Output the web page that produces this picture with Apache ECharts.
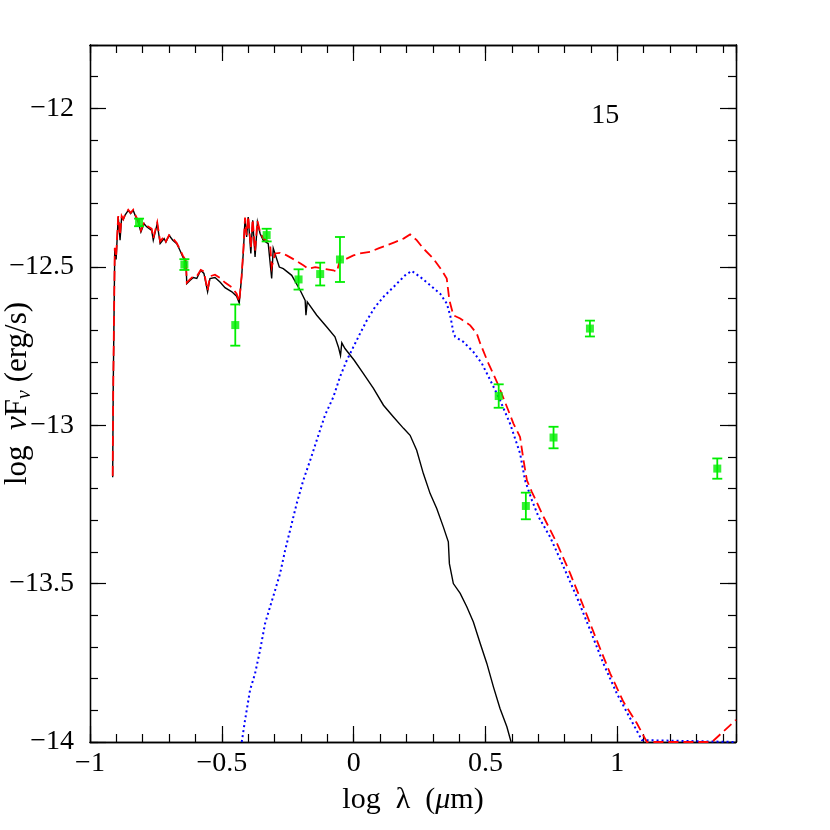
<!DOCTYPE html>
<html>
<head>
<meta charset="utf-8">
<script src="https://cdn.jsdelivr.net/npm/echarts@6/dist/echarts.min.js"></script>
<style>
  html, body { margin: 0; padding: 0; background: #fff; }
  #chart { width: 830px; height: 830px; }
</style>
</head>
<body>
<div id="chart"></div>
<script>
// 光球模型 (black, solid)
const photPts = [[-0.914,-13.164],[-0.912,-12.890],[-0.906,-12.443],[-0.901,-12.477],[-0.893,-12.343],[-0.886,-12.416],[-0.880,-12.343],[-0.874,-12.351],[-0.867,-12.337],[-0.855,-12.322],[-0.846,-12.332],[-0.836,-12.322],[-0.829,-12.337],[-0.817,-12.359],[-0.807,-12.390],[-0.795,-12.364],[-0.785,-12.374],[-0.766,-12.385],[-0.760,-12.416],[-0.745,-12.364],[-0.734,-12.427],[-0.719,-12.411],[-0.712,-12.422],[-0.700,-12.401],[-0.686,-12.416],[-0.671,-12.427],[-0.659,-12.448],[-0.648,-12.469],[-0.636,-12.485],[-0.633,-12.553],[-0.621,-12.543],[-0.608,-12.534],[-0.595,-12.537],[-0.580,-12.511],[-0.568,-12.521],[-0.554,-12.579],[-0.545,-12.537],[-0.526,-12.534],[-0.507,-12.548],[-0.488,-12.566],[-0.462,-12.579],[-0.444,-12.593],[-0.434,-12.614],[-0.425,-12.532],[-0.418,-12.448],[-0.412,-12.348],[-0.406,-12.406],[-0.400,-12.343],[-0.390,-12.458],[-0.383,-12.353],[-0.374,-12.469],[-0.365,-12.359],[-0.355,-12.395],[-0.343,-12.416],[-0.324,-12.427],[-0.311,-12.537],[-0.305,-12.442],[-0.282,-12.501],[-0.267,-12.506],[-0.235,-12.527],[-0.203,-12.574],[-0.184,-12.606],[-0.181,-12.653],[-0.176,-12.611],[-0.140,-12.653],[-0.102,-12.690],[-0.071,-12.721],[-0.058,-12.753],[-0.050,-12.780],[-0.045,-12.740],[-0.039,-12.737],[-0.033,-12.758],[0.002,-12.795],[0.037,-12.837],[0.075,-12.884],[0.113,-12.937],[0.151,-12.974],[0.189,-13.010],[0.214,-13.032],[0.239,-13.079],[0.264,-13.152],[0.290,-13.216],[0.315,-13.263],[0.340,-13.321],[0.359,-13.368],[0.363,-13.437],[0.378,-13.500],[0.404,-13.531],[0.429,-13.573],[0.454,-13.621],[0.480,-13.689],[0.505,-13.752],[0.530,-13.826],[0.555,-13.894],[0.581,-13.952],[0.597,-14.0]]

// 尘埃模型 (blue, dotted)
const dustPts = [[-0.4245,-14.0],[-0.412,-13.931],[-0.393,-13.836],[-0.374,-13.784],[-0.355,-13.710],[-0.336,-13.626],[-0.317,-13.573],[-0.298,-13.521],[-0.279,-13.468],[-0.260,-13.395],[-0.241,-13.331],[-0.216,-13.247],[-0.191,-13.174],[-0.165,-13.111],[-0.140,-13.047],[-0.109,-12.969],[-0.077,-12.911],[-0.052,-12.848],[-0.026,-12.795],[-0.001,-12.753],[0.024,-12.711],[0.050,-12.669],[0.081,-12.627],[0.113,-12.595],[0.151,-12.564],[0.183,-12.537],[0.195,-12.527],[0.220,-12.513],[0.252,-12.532],[0.290,-12.558],[0.328,-12.585],[0.353,-12.616],[0.366,-12.653],[0.378,-12.706],[0.385,-12.721],[0.416,-12.737],[0.454,-12.769],[0.486,-12.805],[0.518,-12.858],[0.555,-12.921],[0.593,-12.995],[0.631,-13.089],[0.650,-13.174],[0.676,-13.237],[0.701,-13.289],[0.745,-13.353],[0.796,-13.447],[0.846,-13.542],[0.897,-13.647],[0.947,-13.752],[0.998,-13.847],[1.049,-13.926],[1.093,-13.994],[1.45,-14.0]]

// 总和 (red, dashed)
const totalPts = [[-0.914,-13.16],[-0.912,-12.89],[-0.906,-12.44],[-0.901,-12.47],[-0.893,-12.34],[-0.886,-12.40],[-0.880,-12.34],[-0.874,-12.35],[-0.867,-12.335],[-0.855,-12.32],[-0.846,-12.33],[-0.836,-12.32],[-0.829,-12.335],[-0.817,-12.355],[-0.807,-12.385],[-0.795,-12.36],[-0.785,-12.37],[-0.766,-12.38],[-0.760,-12.41],[-0.745,-12.36],[-0.734,-12.42],[-0.719,-12.405],[-0.712,-12.42],[-0.700,-12.40],[-0.686,-12.41],[-0.671,-12.425],[-0.659,-12.445],[-0.648,-12.465],[-0.636,-12.48],[-0.633,-12.55],[-0.621,-12.54],[-0.608,-12.53],[-0.595,-12.53],[-0.580,-12.51],[-0.568,-12.515],[-0.554,-12.575],[-0.545,-12.53],[-0.526,-12.525],[-0.507,-12.535],[-0.488,-12.55],[-0.462,-12.565],[-0.444,-12.585],[-0.434,-12.61],[-0.425,-12.53],[-0.418,-12.44],[-0.412,-12.345],[-0.406,-12.40],[-0.400,-12.34],[-0.390,-12.44],[-0.383,-12.35],[-0.374,-12.45],[-0.365,-12.355],[-0.355,-12.39],[-0.343,-12.41],[-0.324,-12.42],[-0.317,-12.427],[-0.311,-12.501],[-0.298,-12.458],[-0.279,-12.456],[-0.254,-12.464],[-0.222,-12.479],[-0.191,-12.495],[-0.172,-12.506],[-0.146,-12.501],[-0.115,-12.506],[-0.077,-12.511],[-0.064,-12.516],[-0.052,-12.479],[-0.026,-12.474],[-0.001,-12.464],[0.024,-12.458],[0.062,-12.453],[0.094,-12.442],[0.126,-12.432],[0.157,-12.422],[0.189,-12.411],[0.214,-12.398],[0.239,-12.416],[0.264,-12.442],[0.302,-12.474],[0.334,-12.511],[0.353,-12.537],[0.363,-12.606],[0.378,-12.653],[0.404,-12.663],[0.442,-12.685],[0.467,-12.711],[0.480,-12.742],[0.511,-12.805],[0.543,-12.863],[0.574,-12.927],[0.606,-12.995],[0.631,-13.037],[0.644,-13.110],[0.657,-13.174],[0.676,-13.211],[0.720,-13.289],[0.771,-13.373],[0.821,-13.468],[0.872,-13.573],[0.922,-13.679],[0.973,-13.784],[1.023,-13.873],[1.074,-13.941],[1.112,-14.0],[1.359,-14.0],[1.45,-13.93]]

// 观测点
const obsX = [-0.814, -0.642, -0.449, -0.330, -0.209, -0.127, -0.052, 0.550, 0.653, 0.758, 0.896, 1.379]
const obsY = [-12.360, -12.493, -12.684, -12.400, -12.540, -12.523, -12.477, -12.908, -13.255, -13.039, -12.695, -13.137]
const obsErr = [0.012, 0.017, 0.065, 0.020, 0.032, 0.036, 0.071, 0.037, 0.042, 0.034, 0.025, 0.032]

const xRange = [-1, 1.45]
const yRange = [-14, -11.8]
const panelLabel = '15'
const panelLabelPos = [0.954, -12.022]

const FONT = '"Liberation Serif", "DejaVu Serif", serif'
const GREEN = '#00ee00'

const fmt = v => (v < 0 ? '\u2212' : '') + Math.abs(Math.round(v * 10) / 10)

const chart = echarts.init(document.getElementById('chart'))

const tickLine = { color: '#000', width: 1.2 }
const frameLine = { show: true, onZero: false, lineStyle: { color: '#000', width: 1.3 } }

// 主刻度 / 次刻度轴
const makeX = (position, interval, len, labels) => ({
  type: 'value', min: xRange[0], max: xRange[1], interval, position,
  axisLine: frameLine,
  axisTick: { show: true, inside: true, length: len, lineStyle: tickLine },
  axisLabel: labels ? { show: true, formatter: fmt, fontFamily: FONT, fontSize: 28, color: '#000', margin: 8, showMaxLabel: false } : { show: false },
  splitLine: { show: false }
})
const makeY = (position, interval, len, labels) => ({
  type: 'value', min: yRange[0], max: yRange[1], interval, position,
  axisLine: frameLine,
  axisTick: { show: true, inside: true, length: len, lineStyle: tickLine },
  axisLabel: labels ? { show: true, formatter: fmt, fontFamily: FONT, fontSize: 28, color: '#000', margin: 16, showMaxLabel: false } : { show: false },
  splitLine: { show: false }
})

const xMain = makeX('bottom', 0.5, 16, true)
xMain.name = 'log  λ  ({i|μ}m)'
xMain.nameLocation = 'middle'
xMain.nameGap = 43
xMain.nameMoveOverlap = false
xMain.nameTextStyle = {
  fontFamily: FONT, fontSize: 30, color: '#000',
  rich: { i: { fontFamily: FONT, fontSize: 30, fontStyle: 'italic', color: '#000' } }
}

const yMain = makeY('left', 0.5, 16, true)
yMain.name = 'log  {i|ν}F{s|ν} (erg/s)'
yMain.nameLocation = 'middle'
yMain.nameGap = 55
yMain.nameMoveOverlap = false
yMain.nameTextStyle = {
  fontFamily: FONT, fontSize: 31, color: '#000',
  rich: {
    i: { fontFamily: FONT, fontSize: 31, fontStyle: 'italic', color: '#000' },
    s: { fontFamily: FONT, fontSize: 20, fontStyle: 'italic', color: '#000', padding: [15, 0, 0, 0] }
  }
}

const lineSeries = (name, data, color, type, width, z) => ({
  name, type: 'line', data, showSymbol: false, symbol: 'none',
  xAxisIndex: 0, yAxisIndex: 0, z, silent: true,
  lineStyle: { color, width, type, cap: 'butt', join: 'miter' }
})

const errData = obsX.map((x, i) => [x, obsY[i], obsErr[i]])

chart.setOption({
  animation: false,
  backgroundColor: '#fff',
  grid: { left: 90, top: 45, right: 94, bottom: 88, outerBoundsMode: 'none', containLabel: false },
  xAxis: [
    xMain,
    makeX('bottom', 0.1, 8, false),
    makeX('top', 0.5, 16, false),
    makeX('top', 0.1, 8, false)
  ],
  yAxis: [
    yMain,
    makeY('left', 0.1, 8, false),
    makeY('right', 0.5, 16, false),
    makeY('right', 0.1, 8, false)
  ],
  series: [
    lineSeries('photosphere', photPts, '#000', 'solid', 1.4, 2),
    lineSeries('dust', dustPts, '#0000ff', [2, 3], 2, 3),
    lineSeries('total', totalPts, '#ff0000', [10, 5], 1.8, 4),
    {
      name: 'errors', type: 'custom', xAxisIndex: 0, yAxisIndex: 0, z: 5,
      data: errData,
      renderItem: (params, api) => {
        const x = api.value(0), y = api.value(1), e = api.value(2)
        const top = api.coord([x, y + e])
        const bot = api.coord([x, y - e])
        const w = 5
        const st = { stroke: GREEN, lineWidth: 1.8 }
        return {
          type: 'group',
          children: [
            { type: 'line', shape: { x1: top[0], y1: top[1], x2: bot[0], y2: bot[1] }, style: st },
            { type: 'line', shape: { x1: top[0] - w, y1: top[1], x2: top[0] + w, y2: top[1] }, style: st },
            { type: 'line', shape: { x1: bot[0] - w, y1: bot[1], x2: bot[0] + w, y2: bot[1] }, style: st }
          ]
        }
      }
    },
    {
      name: 'obs', type: 'scatter', xAxisIndex: 0, yAxisIndex: 0, z: 6,
      data: obsX.map((x, i) => [x, obsY[i]]),
      symbol: 'rect', symbolSize: 8,
      itemStyle: { color: GREEN }
    }
  ]
})

// 面板编号
const p = chart.convertToPixel({ gridIndex: 0 }, panelLabelPos)
chart.setOption({
  graphic: [{
    type: 'text', x: p[0], y: p[1],
    style: { text: panelLabel, font: '28px ' + FONT, fill: '#000', align: 'center', verticalAlign: 'middle' }
  }]
})
</script>
</body>
</html>
